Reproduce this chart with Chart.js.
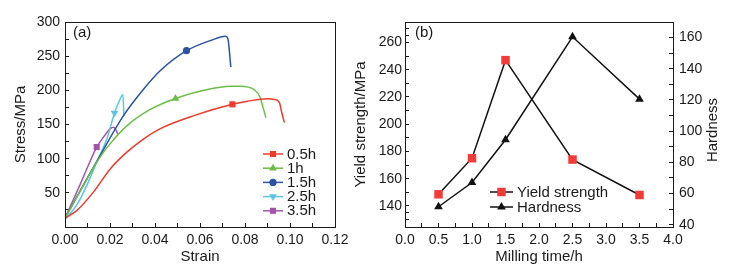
<!DOCTYPE html>
<html>
<head>
<meta charset="utf-8">
<script src="https://cdn.jsdelivr.net/npm/chart.js@4.4.1/dist/chart.umd.min.js"></script>
<style>
  body { margin: 0; background: #fff; }
  #wrap { position: relative; width: 731px; height: 268px; }
  #stressChart { position: absolute; left: 0; top: 0; }
  #yieldChart { position: absolute; left: 350px; top: 0; }
  .frame { position: absolute; box-sizing: border-box; border: 1px solid #1a1a1a; pointer-events: none; }
</style>
</head>
<body>
<div id="wrap">
  <canvas id="stressChart" width="350" height="268"></canvas>
  <canvas id="yieldChart" width="381" height="268"></canvas>
</div>
<script>
// ---- (a) stress-strain curves ----
const strain05 = [0, 0.0052, 0.0126, 0.0201, 0.0275, 0.035, 0.0424, 0.0573, 0.0744, 0.0811, 0.09, 0.093, 0.0953, 0.0963, 0.0975];
const stress05 = [13, 24, 51, 85, 109.5, 129, 144, 163, 179.5, 184, 187.7, 186.7, 182, 168, 153];

const strain1 = [0, 0.0072, 0.0143, 0.0201, 0.0275, 0.0379, 0.0491, 0.0617, 0.0737, 0.078, 0.084, 0.0867, 0.088, 0.0893];
const stress1 = [13, 55, 96, 122, 148, 172, 188, 200, 206, 206, 201, 190, 175, 160];

const strain15 = [0, 0.0143, 0.026, 0.035, 0.0424, 0.054, 0.0647, 0.0714, 0.0724, 0.0737];
const stress15 = [13, 97, 163, 202, 229, 258, 273, 279, 275.5, 234];

const strain25 = [0, 0.0052, 0.0097, 0.0141, 0.0186, 0.022, 0.0246, 0.0257, 0.0262];
const stress25 = [11, 32, 61, 95, 129, 167, 188, 194, 162];

const strain35 = [0, 0.0067, 0.0141, 0.0171, 0.0201, 0.0216, 0.0228, 0.0234];
const stress35 = [13, 62, 117, 131.5, 144, 146, 141, 136];

const curveLabels = ['0.5h', '1h', '1.5h', '2.5h', '3.5h'];
const markerStrain = [0.0744, 0.0491, 0.054, 0.022, 0.0141];
const strainTicks = [0, 0.02, 0.04, 0.06, 0.08, 0.10, 0.12];
const stressTicks = [0, 50, 100, 150, 200, 250, 300];

// ---- (b) yield strength and hardness ----
const millingTime = [0.5, 1.0, 1.5, 2.5, 3.5];
const yieldStrength = [148.5, 175, 247, 174, 148];
const hardness = [51.5, 67, 94.5, 160.5, 120.5];
const timeTicks = [0, 0.5, 1.0, 1.5, 2.0, 2.5, 3.0, 3.5, 4.0];
const yieldTicks = [130, 140, 160, 180, 200, 220, 240, 260, 270];
const hardnessTicks = [40, 60, 80, 100, 120, 140, 160];

const FONT = '"Liberation Sans", Arial, sans-serif';
const INK = '#1a1a1a';
Chart.defaults.font.family = FONT;
Chart.defaults.font.size = 14;
Chart.defaults.color = INK;

function zipPoints(xs, ys) {
    return xs.map((x, i) => ({ x: x, y: ys[i] }));
}

// major ticks from the list plus a minor tick halfway between each pair
function withMinor(list, lo, hi) {
    const vals = [];
    list.forEach((v, i) => {
        vals.push({ value: v, major: true });
        if (i < list.length - 1) vals.push({ value: (v + list[i + 1]) / 2, major: false });
    });
    return vals.filter(t => t.value >= lo - 1e-9 && t.value <= hi + 1e-9);
}

function tickBuilder(list) {
    return scale => { scale.ticks = withMinor(list, scale.min, scale.max); };
}

function labelOnlyMajor(list, fmt) {
    return v => list.some(m => Math.abs(m - v) < 1e-9) ? fmt(v) : '';
}

// bottom axis: fixed height, no extra side padding for the end labels
function bottomFit(scale) {
    scale.height = 41;
    scale.paddingLeft = 0;
    scale.paddingRight = 0;
}

// inward tick marks plus border on the axis line
const inwardGrid = { display: true, drawOnChartArea: false, drawTicks: true, tickLength: -4, color: INK, tickWidth: 1 };
const axisBorder = { display: true, color: INK, width: 1 };

// outline the plot area of a finished chart with a box on top of the canvas
function addFrame(chart, canvasLeft) {
    const a = chart.chartArea;
    const box = document.createElement('div');
    box.className = 'frame';
    box.style.left = (canvasLeft + Math.round(a.left)) + 'px';
    box.style.top = Math.round(a.top) + 'px';
    box.style.width = (Math.round(a.right) - Math.round(a.left) + 1) + 'px';
    box.style.height = (Math.round(a.bottom) - Math.round(a.top) + 1) + 'px';
    document.getElementById('wrap').appendChild(box);
}

// small marker drawing used by the legends
function drawMarker(ctx, style, x, y, r, color, rotation) {
    ctx.save();
    ctx.fillStyle = color;
    ctx.beginPath();
    if (style === 'rect') {
        const s = r * Math.SQRT1_2;
        ctx.rect(x - s, y - s, 2 * s, 2 * s);
    } else if (style === 'circle') {
        ctx.arc(x, y, r, 0, Math.PI * 2);
    } else if (style === 'triangle') {
        const d = rotation === 180 ? -1 : 1;
        ctx.moveTo(x, y - d * r);
        ctx.lineTo(x + r * 0.866, y + d * r * 0.5);
        ctx.lineTo(x - r * 0.866, y + d * r * 0.5);
        ctx.closePath();
    }
    ctx.fill();
    ctx.restore();
}

// panel letter, legend and rotated right title
function notesPlugin(opts) {
    return {
        id: 'notes',
        afterDraw(chart) {
            const ctx = chart.ctx;
            ctx.save();
            ctx.fillStyle = INK;
            ctx.font = '15px ' + FONT;
            ctx.textBaseline = 'middle';
            ctx.textAlign = 'left';
            ctx.fillText(opts.panel, opts.panelX, opts.panelY);

            opts.legendItems.forEach((it, i) => {
                const y = opts.legendY + i * opts.legendDy;
                ctx.strokeStyle = it.line;
                ctx.lineWidth = 1.5;
                ctx.beginPath();
                ctx.moveTo(opts.legendX, y);
                ctx.lineTo(opts.legendX + opts.lineLen, y);
                ctx.stroke();
                drawMarker(ctx, it.style, opts.legendX + opts.lineLen / 2, y, it.radius, it.fill, it.rotation);
                ctx.fillStyle = INK;
                ctx.fillText(it.label, opts.legendX + opts.lineLen + 4, y + 0.5);
            });

            if (opts.rightTitle) {
                ctx.translate(opts.rightTitle.x, opts.rightTitle.y);
                ctx.rotate(-Math.PI / 2);
                ctx.textAlign = 'center';
                ctx.fillText(opts.rightTitle.text, 0, 0);
            }
            ctx.restore();
        }
    };
}

// ---------- chart (a) ----------
const curveColors = ['#ee3a2a', '#6cbd45', '#2c52a3', '#5cc6e0', '#a355aa'];
const curveStyles = ['rect', 'triangle', 'circle', 'triangle', 'rect'];
const curveRotations = [0, 0, 0, 180, 0];
const curveRadii = [4.3, 4.5, 3.6, 4.5, 4.3];
const curveData = [
    zipPoints(strain05, stress05),
    zipPoints(strain1, stress1),
    zipPoints(strain15, stress15),
    zipPoints(strain25, stress25),
    zipPoints(strain35, stress35)
];

const stressDatasets = curveData.map((pts, i) => ({
    label: curveLabels[i],
    data: pts,
    borderColor: curveColors[i],
    backgroundColor: curveColors[i],
    borderWidth: 1.5,
    cubicInterpolationMode: 'monotone',
    pointStyle: curveStyles[i],
    rotation: curveRotations[i],
    pointRadius: ctx => Math.abs(ctx.raw.x - markerStrain[i]) < 1e-9 ? curveRadii[i] : 0,
    pointBorderWidth: 0,
    pointHoverRadius: 0
}));

const stressChart = new Chart(document.getElementById('stressChart'), {
    type: 'line',
    data: { datasets: stressDatasets },
    options: {
        responsive: false,
        animation: false,
        devicePixelRatio: 1,
        layout: { padding: { top: 22, right: 15, left: 0, bottom: 0 } },
        plugins: { legend: { display: false }, tooltip: { enabled: false } },
        scales: {
            x: {
                type: 'linear', position: 'bottom', min: 0, max: 0.12,
                afterBuildTicks: tickBuilder(strainTicks),
                afterFit: bottomFit,
                grid: inwardGrid, border: axisBorder,
                ticks: { callback: labelOnlyMajor(strainTicks, v => v.toFixed(2)), padding: 9, maxRotation: 0, autoSkip: false },
                title: { display: true, text: 'Strain', font: { size: 15 }, padding: { top: 0, bottom: 2 } }
            },
            y: {
                type: 'linear', position: 'left', min: 0, max: 300,
                afterBuildTicks: tickBuilder(stressTicks),
                afterFit: s => { s.width = 65; },
                grid: inwardGrid, border: axisBorder,
                ticks: { callback: labelOnlyMajor(stressTicks.filter(v => v > 0), v => String(v)), padding: 9, autoSkip: false },
                title: { display: true, text: 'Stress/MPa', font: { size: 15 }, padding: { top: 12, bottom: 0 } }
            }
        }
    },
    plugins: [
        notesPlugin({
            panel: '(a)', panelX: 73, panelY: 33,
            legendX: 263, legendY: 154, legendDy: 14.2, lineLen: 20,
            legendItems: curveLabels.map((l, i) => ({
                label: l, line: curveColors[i], fill: curveColors[i],
                style: curveStyles[i], radius: curveRadii[i], rotation: curveRotations[i]
            }))
        })
    ]
});
addFrame(stressChart, 0);

// ---------- chart (b) ----------
const yieldChart = new Chart(document.getElementById('yieldChart'), {
    type: 'line',
    data: {
        datasets: [
            {
                label: 'Yield strength',
                data: zipPoints(millingTime, yieldStrength),
                yAxisID: 'y',
                borderColor: '#111',
                borderWidth: 1.5,
                tension: 0,
                pointStyle: 'rect',
                pointRadius: 6,
                pointBackgroundColor: '#f23a36',
                pointBorderWidth: 0
            },
            {
                label: 'Hardness',
                data: zipPoints(millingTime, hardness),
                yAxisID: 'y2',
                borderColor: '#111',
                borderWidth: 1.5,
                tension: 0,
                pointStyle: 'triangle',
                pointRadius: 5,
                pointBackgroundColor: '#111',
                pointBorderWidth: 0
            }
        ]
    },
    options: {
        responsive: false,
        animation: false,
        devicePixelRatio: 1,
        layout: { padding: { top: 22, right: 0, left: 0, bottom: 0 } },
        plugins: { legend: { display: false }, tooltip: { enabled: false } },
        scales: {
            x: {
                type: 'linear', position: 'bottom', min: 0, max: 4,
                afterBuildTicks: tickBuilder(timeTicks),
                afterFit: bottomFit,
                grid: inwardGrid, border: axisBorder,
                ticks: { callback: labelOnlyMajor(timeTicks, v => v.toFixed(1)), padding: 9, maxRotation: 0, autoSkip: false },
                title: { display: true, text: 'Milling time/h', font: { size: 15 }, padding: { top: 0, bottom: 2 } }
            },
            y: {
                type: 'linear', position: 'left', min: 124.5, max: 275,
                afterBuildTicks: tickBuilder(yieldTicks),
                afterFit: s => { s.width = 55; },
                grid: inwardGrid, border: axisBorder,
                ticks: { callback: labelOnlyMajor(yieldTicks.slice(1, -1), v => String(v)), padding: 7, autoSkip: false },
                title: { display: true, text: 'Yield strength/MPa', font: { size: 15 }, padding: { top: 2, bottom: 0 } }
            },
            y2: {
                type: 'linear', position: 'right', min: 38.5, max: 170,
                afterBuildTicks: tickBuilder(hardnessTicks),
                afterFit: s => { s.width = 58; },
                grid: inwardGrid, border: axisBorder,
                ticks: { padding: 10, autoSkip: false, callback: labelOnlyMajor(hardnessTicks, v => String(v)) }
            }
        }
    },
    plugins: [
        notesPlugin({
            panel: '(b)', panelX: 65, panelY: 33,
            legendX: 140, legendY: 192, legendDy: 15, lineLen: 23,
            legendItems: [
                { label: 'Yield strength', line: '#111', fill: '#f23a36', style: 'rect', radius: 6 },
                { label: 'Hardness', line: '#111', fill: '#111', style: 'triangle', radius: 5 }
            ],
            rightTitle: { text: 'Hardness', x: 363, y: 130 }
        })
    ]
});
addFrame(yieldChart, 350);
</script>
</body>
</html>
